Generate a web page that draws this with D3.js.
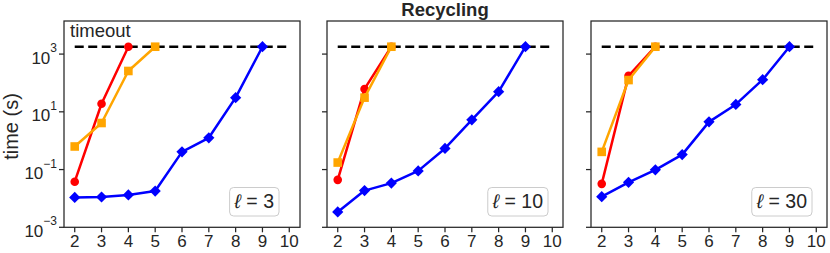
<!DOCTYPE html>
<html><head><meta charset="utf-8">
<script src="https://cdn.jsdelivr.net/npm/d3@7"></script>
<style>body{margin:0;background:#fff}svg{display:block}text{font-family:"Liberation Sans",Arial,sans-serif;fill:#262626}</style>
</head><body><svg id="c" width="830" height="253"></svg>
<script>
const title = "Recycling";
const yLabel = "time (s)";
const timeoutLabel = "timeout";
const timeoutValue = 1800;
const xTicks = [2,3,4,5,6,7,8,9,10];
const yTickExp = [-3,-1,1,3];
const ells = ["3","10","30"];
const redX = [2,3,4];
const orangeX3 = [2,3,4,5];
const orangeX = [2,3,4];
const blueX = [2,3,4,5,6,7,8,9];
const red3 = [0.038, 19, 1800];
const orange3 = [0.63, 4.1, 260, 1800];
const blue3 = [0.0108, 0.0112, 0.0132, 0.018, 0.41, 1.26, 31, 1800];
const red10 = [0.044, 62, 1800];
const orange10 = [0.175, 31, 1800];
const blue10 = [0.0034, 0.0187, 0.034, 0.09, 0.54, 5.3, 50, 1800];
const red30 = [0.032, 178, 1800];
const orange30 = [0.41, 126, 1800];
const blue30 = [0.0115, 0.036, 0.098, 0.33, 4.5, 18, 130, 1800];

const panels = [
  {ell: ells[0], red: red3, orange: orange3, orangeX: orangeX3, blue: blue3},
  {ell: ells[1], red: red10, orange: orange10, orangeX: orangeX, blue: blue10},
  {ell: ells[2], red: red30, orange: orange30, orangeX: orangeX, blue: blue30}
];
// layout
const lefts = [64, 327, 591], W = 236, plotTop = 21, plotBottom = 227.3;
const legendRight = [21, 15, 15];
const svg = d3.select("#c");
const x = d3.scaleLinear().domain([1.6, 10.4]).range([0, W]);
const y = d3.scaleLog().domain([1e-3, 1.4e4]).range([plotBottom, plotTop]);
const ink = "#262626";

panels.forEach((p, i) => {
  const g = svg.append("g").attr("transform", `translate(${lefts[i]},0)`);
  g.append("rect").attr("x", 0).attr("y", plotTop).attr("width", W).attr("height", plotBottom - plotTop)
    .attr("fill", "none").attr("stroke", ink).attr("stroke-width", 1.25);
  xTicks.forEach(t => {
    g.append("line").attr("x1", x(t)).attr("x2", x(t)).attr("y1", plotBottom).attr("y2", plotBottom + 5)
      .attr("stroke", ink).attr("stroke-width", 1.25);
    g.append("text").attr("x", x(t)).attr("y", 246.5).attr("text-anchor", "middle")
      .attr("font-size", 17).text(t);
  });
  yTickExp.forEach(e => {
    const yy = y(Math.pow(10, e));
    g.append("line").attr("x1", -5).attr("x2", 0).attr("y1", yy).attr("y2", yy)
      .attr("stroke", ink).attr("stroke-width", 1.25);
    if (i === 0) {
      const t = g.append("text").attr("x", -7).attr("y", yy + 9.5).attr("text-anchor", "end").attr("font-size", 17);
      t.append("tspan").text("10");
      t.append("tspan").attr("font-size", 12).attr("dy", -11.5).text(e < 0 ? "\u2212" + Math.abs(e) : String(e));
    }
  });
  g.append("line").attr("x1", x(2)).attr("x2", x(10)).attr("y1", y(timeoutValue)).attr("y2", y(timeoutValue))
    .attr("stroke", "#000").attr("stroke-width", 2.6).attr("stroke-dasharray", "9,4.5");
  const line = d3.line().x(d => x(d[0])).y(d => y(d[1]));
  const series = [
    {xs: redX, vals: p.red, color: "red", shape: "circle"},
    {xs: p.orangeX, vals: p.orange, color: "orange", shape: "square"},
    {xs: blueX, vals: p.blue, color: "blue", shape: "diamond"}
  ];
  series.forEach(s => {
    const pts = s.xs.map((xv, k) => [xv, s.vals[k]]);
    g.append("path").attr("d", line(pts)).attr("fill", "none").attr("stroke", s.color)
      .attr("stroke-width", 2.5).attr("stroke-linejoin", "round");
    pts.forEach(d => {
      const cx = x(d[0]), cy = y(d[1]);
      if (s.shape === "circle") {
        g.append("circle").attr("cx", cx).attr("cy", cy).attr("r", 4.3).attr("fill", s.color);
      } else if (s.shape === "square") {
        g.append("rect").attr("x", cx - 4.3).attr("y", cy - 4.3).attr("width", 8.6).attr("height", 8.6).attr("fill", s.color);
      } else {
        const r = 5.6;
        g.append("path").attr("d", `M${cx},${cy - r}L${cx + r},${cy}L${cx},${cy + r}L${cx - r},${cy}Z`).attr("fill", s.color);
      }
    });
  });
  const lg = g.append("g");
  const box = lg.append("rect").attr("rx", 4).attr("ry", 4).attr("fill", "#fff").attr("fill-opacity", 0.8)
    .attr("stroke", "#cccccc").attr("stroke-width", 1);
  const lt = lg.append("text").attr("font-size", 19.5).attr("text-anchor", "middle").attr("y", 208.3);
  lt.append("tspan").attr("font-style", "italic").text("\u2113");
  lt.append("tspan").text(" = " + p.ell);
  const tw = lt.node().getComputedTextLength();
  const bw = tw + 10, bx = W - legendRight[i] - bw;
  box.attr("x", bx).attr("y", 187.5).attr("width", bw).attr("height", 28.5);
  lt.attr("x", bx + bw / 2);
  if (i === 0) {
    g.append("text").attr("x", 6).attr("y", 36.7).attr("font-size", 18.5).text(timeoutLabel);
  }
  if (i === 1) {
    g.append("text").attr("x", W / 2).attr("y", 16).attr("text-anchor", "middle")
      .attr("font-size", 18.5).attr("font-weight", "bold").text(title);
  }
});
svg.append("text").attr("transform", "translate(18,126.5) rotate(-90)").attr("text-anchor", "middle")
  .attr("font-size", 20).text(yLabel);
</script></body></html>
